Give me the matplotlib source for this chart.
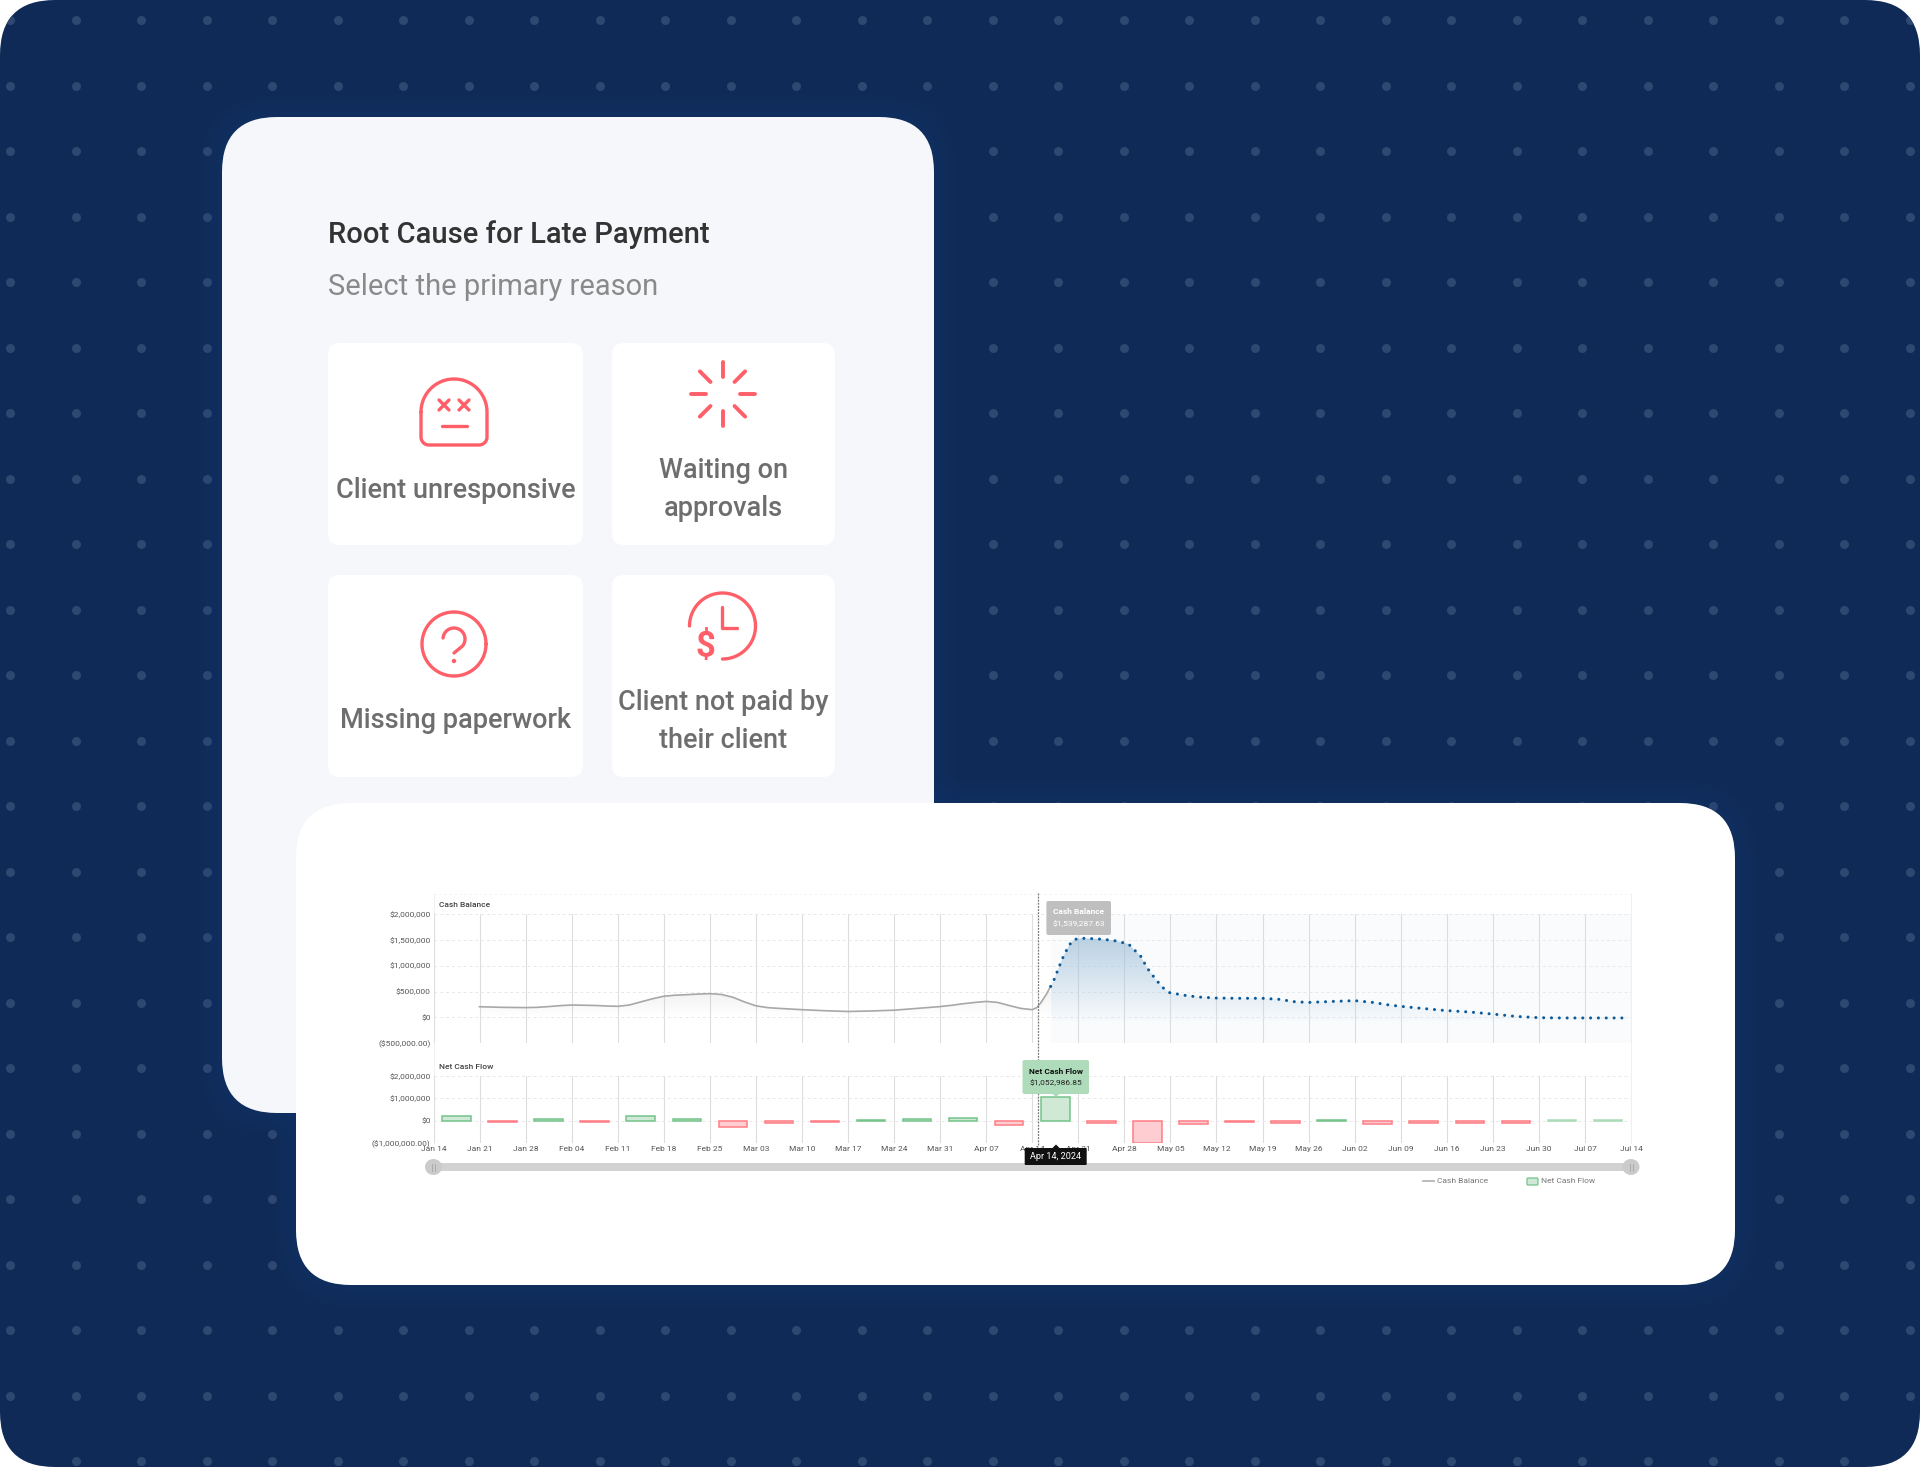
#rebuilds the late payment mockup: navy dotted backdrop, reason picker panel and the cash flow chart card.
#the backdrop and cards live in full figure axes in pixel coords, the two charts get their own axes on top.

import numpy as np
import matplotlib
matplotlib.use("Agg")
import matplotlib.pyplot as plt
from matplotlib.patches import FancyBboxPatch, Circle, Ellipse, Polygon, Rectangle

plt.rcParams["font.family"] = ["Roboto", "DejaVu Sans"]

W, H = 1920, 1467

NAVY = "#0f2a56"
DOT = "#2f4872"
PANEL = "#f6f7fa"
ICON = "#ff5f68"

WEEK_LABELS = ["Jan 14", "Jan 21", "Jan 28", "Feb 04", "Feb 11", "Feb 18", "Feb 25", "Mar 03", "Mar 10",
               "Mar 17", "Mar 24", "Mar 31", "Apr 07", "Apr 14", "Apr 21", "Apr 28", "May 05", "May 12",
               "May 19", "May 26", "Jun 02", "Jun 09", "Jun 16", "Jun 23", "Jun 30", "Jul 07", "Jul 14"]

#cash balance, x in weeks since jan 14
hist_weeks = [1, 1.5, 2, 2.25, 2.5, 2.75, 3, 3.5, 3.75, 4, 4.25, 4.5, 4.75, 5, 5.25, 5.5, 5.75, 6, 6.25, 6.5,
              6.75, 7, 7.25, 7.5, 8, 8.5, 9, 9.5, 10, 10.5, 11, 11.25, 11.5, 11.75, 12, 12.25, 12.5, 12.75,
              13, 13.1, 13.2, 13.3, 13.4]
hist_cash = [207000, 195000, 190000, 195000, 210000, 228000, 240000, 232000, 222000, 215000, 240000, 300000,
             360000, 410000, 430000, 440000, 452000, 460000, 445000, 390000, 300000, 225000, 190000, 175000,
             150000, 130000, 115000, 125000, 140000, 175000, 210000, 235000, 265000, 290000, 310000, 290000,
             230000, 175000, 150000, 190000, 300000, 440000, 600000]
fcst_weeks = [13.4, 13.46, 13.65, 13.8, 13.92, 14.08, 14.4, 14.76, 15.09, 15.2, 15.35, 15.5, 15.66, 15.83,
              15.98, 16.29, 16.6, 17, 17.46, 18, 18.36, 18.69, 19, 19.53, 20, 20.4, 20.75, 21, 21.4,
              21.95, 22.5, 23, 23.5, 24, 24.5, 25, 25.87]
fcst_cash = [600000, 700000, 1130000, 1400000, 1510000, 1530000, 1520000, 1490000, 1420000, 1320000,
             1190000, 950000, 760000, 580000, 480000, 430000, 395000, 375000, 370000, 370000, 350000,
             305000, 290000, 310000, 325000, 290000, 240000, 215000, 180000, 135000, 105000, 65000,
             20000, -5000, -10000, -10000, -10000]

#weekly net cash flow, one bar per week
net_flow = [210000, -60000, 70000, -60000, 200000, 80000, -270000, -110000, -70000, 60000, 90000, 110000,
            -190000, 1052986.85, -110000, -1000000, -150000, -50000, -100000, 40000, -140000, -110000,
            -110000, -100000, 40000, 40000]

CASH_TICKS = [-500000, 0, 500000, 1000000, 1500000, 2000000]
CASH_TICK_LABELS = ["($500,000.00)", "$0", "$500,000", "$1,000,000", "$1,500,000", "$2,000,000"]
FLOW_TICKS = [-1000000, 0, 1000000, 2000000]
FLOW_TICK_LABELS = ["($1,000,000.00)", "$0", "$1,000,000", "$2,000,000"]

CARDS = [
    (328, 343, 583, 545, ["Client unresponsive"], [491]),
    (612, 343, 835, 545, ["Waiting on", "approvals"], [470.5, 508.5]),
    (328, 575, 583, 777, ["Missing paperwork"], [720]),
    (612, 575, 835, 777, ["Client not paid by", "their client"], [703, 741]),
]


def rounded(ax, x0, y0, x1, y1, r, **kw):
    patch = FancyBboxPatch((x0, y0), x1 - x0, y1 - y0, boxstyle=f"round,pad=0,rounding_size={r}",
                           mutation_aspect=1, **kw)
    ax.add_patch(patch)
    return patch


def glow(ax, x0, y0, x1, y1, r):
    #soft blue halo around the big cards
    for grow in [22, 16, 10, 5]:
        rounded(ax, x0 - grow, y0 - grow, x1 + grow, y1 + grow, r + grow, fc="#1c3f80", ec="none", alpha=0.06, zorder=2)


def px_axes(fig, x0, y0, x1, y1):
    ax = fig.add_axes([x0 / W, 1 - y1 / H, (x1 - x0) / W, (y1 - y0) / H])
    ax.patch.set_alpha(0)
    for s in ax.spines.values():
        s.set_visible(False)
    return ax


def icon_line(ax, xs, ys, lw=2.4):
    ax.plot(xs, ys, color=ICON, lw=lw, solid_capstyle="round", solid_joinstyle="round", zorder=6)


def arc(cx, cy, r, a0, a1, n=80):
    #angles in degrees, measured on screen (y axis points down in pixel coords)
    t = np.radians(np.linspace(a0, a1, n))
    return cx + r * np.cos(t), cy - r * np.sin(t)


def draw_icons(ax):
    #dead face
    x1, y1 = arc(454, 412, 33, 180, 0)
    x2, y2 = arc(479, 437, 8, 0, -90, 20)
    x3, y3 = arc(429, 437, 8, -90, -180, 20)
    icon_line(ax, np.r_[x1, x2, x3, x1[0]], np.r_[y1, y2, y3, y1[0]])
    for ex in [444, 464]:
        icon_line(ax, [ex - 5, ex + 5], [400, 410])
        icon_line(ax, [ex - 5, ex + 5], [410, 400])
    icon_line(ax, [442, 467], [426, 426])

    #spinner
    for a in np.radians(np.arange(0, 360, 45)):
        icon_line(ax, [722.5 + 17 * np.cos(a), 722.5 + 32 * np.cos(a)], [394 + 17 * np.sin(a), 394 + 32 * np.sin(a)], lw=2.8)

    #question mark
    x, y = arc(454, 644, 32, 0, 360, 120)
    icon_line(ax, x, y)
    x, y = arc(454, 639, 11, 175, -40, 40)
    icon_line(ax, np.r_[x, 454], np.r_[y, 653])
    ax.add_patch(Circle((454, 661), 2.2, fc=ICON, ec="none", zorder=6))

    #clock with dollar
    x, y = arc(722.5, 626, 33, -90, 180, 100)
    icon_line(ax, x, y)
    icon_line(ax, [722, 722, 737], [607, 628, 628])
    ax.text(705, 646, "$", color=ICON, fontsize=25, fontweight="bold", ha="center", va="center", zorder=6)


def draw_backdrop(ax):
    bg = rounded(ax, 0, 0, W, H, 55, fc=NAVY, ec="none", zorder=1)
    xs = np.arange(10, W, 65.5)
    ys = np.arange(20, H, 65.5)
    gx, gy = np.meshgrid(xs, ys)
    dots = ax.scatter(gx.ravel(), gy.ravel(), s=42, c=DOT, linewidths=0, zorder=1.5)
    dots.set_clip_path(bg)

    glow(ax, 222, 117, 934, 1113, 55)
    rounded(ax, 222, 117, 934, 1113, 55, fc=PANEL, ec="none", zorder=3)

    ax.text(328, 235, "Root Cause for Late Payment", color="#333333", fontsize=21, fontweight="medium", va="center", zorder=6)
    ax.text(328, 287, "Select the primary reason", color="#8a8a8a", fontsize=21, va="center", zorder=6)

    for x0, y0, x1, y1, lines, line_y in CARDS:
        rounded(ax, x0, y0, x1, y1, 12, fc="white", ec="none", zorder=4)
        for txt, ty in zip(lines, line_y):
            ax.text((x0 + x1) / 2, ty, txt, color="#6e6e6e", fontsize=19.5, fontweight="medium", ha="center", va="center", zorder=6)
    draw_icons(ax)

    glow(ax, 296, 803, 1735, 1285, 55)
    rounded(ax, 296, 803, 1735, 1285, 55, fc="white", ec="none", zorder=5)


def style_chart(ax, ticks, labels):
    ax.set_xlim(0, 26)
    ax.set_ylim(ticks[0], ticks[-1])
    ax.set_yticks(ticks, labels, fontsize=6, color="#555555")
    ax.set_xticks(range(27))
    ax.tick_params(length=0, pad=2)
    ax.grid(axis="x", color="#dddddd", lw=0.8, zorder=1)
    ax.grid(axis="y", color="#e8e8e8", lw=0.7, ls=(0, (3, 3)), zorder=1)
    ax.set_axisbelow(True)


def gradient_under(ax, weeks, vals, rgb, top_alpha, y_low, y_high, floor=-500000):
    #vertical fade clipped to the area below the curve
    poly = ax.fill_between(weeks, vals, floor, color="none", lw=0)
    grad = np.zeros((256, 1, 4))
    grad[..., :3] = rgb
    grad[:, 0, 3] = np.linspace(top_alpha, 0, 256)
    im = ax.imshow(grad, extent=[weeks[0], weeks[-1], y_low, y_high], origin="upper", aspect="auto", zorder=1.5)
    im.set_clip_path(poly.get_paths()[0], transform=ax.transData)


def draw_cash(ax):
    style_chart(ax, CASH_TICKS, CASH_TICK_LABELS)
    ax.set_xticklabels([])
    ax.axvspan(fcst_weeks[0], 26, fc="#f9fbfd", ec="none", zorder=0.5)
    gradient_under(ax, hist_weeks, hist_cash, (0.6, 0.6, 0.6), 0.12, 0, 460000, floor=0)
    gradient_under(ax, fcst_weeks, fcst_cash, (0.62, 0.75, 0.85), 0.7, -100000, 1530000)
    ax.set_xlim(0, 26)
    ax.set_ylim(CASH_TICKS[0], CASH_TICKS[-1])
    ax.plot(hist_weeks, hist_cash, color="#a8a8a8", lw=1.2, zorder=3)
    ax.plot(fcst_weeks, fcst_cash, color="#0b5a9a", lw=2.2, ls=(0, (0.01, 2.55)), dash_capstyle="round", zorder=3)


def draw_flow(ax):
    style_chart(ax, FLOW_TICKS, FLOW_TICK_LABELS)
    ax.set_xticklabels(WEEK_LABELS, fontsize=6, color="#555555")
    weeks = np.arange(len(net_flow)) + 0.5
    faces = ["#cfe9d6" if v > 0 else "#fdcdd1" for v in net_flow]
    edges = ["#74c48a" if v > 0 else "#ff7d84" for v in net_flow]
    edges[-2:] = ["#a9dcb7", "#a9dcb7"]
    ax.bar(weeks, net_flow, width=0.62, color=faces, edgecolor=edges, lw=1.1, zorder=3)


def draw_overlay(ax):
    #crosshair, tooltips, slider and legend sit above the charts
    ax.plot([1037.7, 1037.7], [893, 1145], color="#777777", lw=0.9, ls=(0, (1.5, 1)), zorder=2)

    rounded(ax, 1046.4, 901, 1111, 935, 2, fc="#bfbfbf", ec="none", zorder=3)
    ax.text(1078.7, 912, "Cash Balance", color="white", fontsize=6, fontweight="bold", ha="center", va="center", zorder=4)
    ax.text(1078.7, 924, "$1,539,287.63", color="white", fontsize=6, ha="center", va="center", zorder=4)

    rounded(ax, 1022.5, 1060, 1089, 1094, 2, fc="#aedcba", ec="none", zorder=3)
    ax.add_patch(Polygon([[1052.5, 1094], [1059.5, 1094], [1056, 1097]], fc="#aedcba", ec="none", zorder=3))
    ax.text(1055.7, 1071, "Net Cash Flow", color="#111111", fontsize=6, fontweight="bold", ha="center", va="center", zorder=4)
    ax.text(1055.7, 1083, "$1,052,986.85", color="#222222", fontsize=6, ha="center", va="center", zorder=4)

    #slider track and handles
    ax.add_patch(Rectangle((433, 1163), 1198, 8, fc="#d2d2d2", ec="none", zorder=2))
    for hx in [433.5, 1631]:
        ax.add_patch(Ellipse((hx, 1167), 17, 16, fc="#cbcbcb", ec="none", zorder=3))
        for dx in [-1.5, 1.5]:
            ax.plot([hx + dx, hx + dx], [1163.5, 1170.5], color="#a5a5a5", lw=0.6, zorder=4)

    rounded(ax, 1024.7, 1148, 1086.7, 1165, 1, fc="#111111", ec="none", zorder=5)
    ax.add_patch(Polygon([[1052.5, 1148], [1059.5, 1148], [1056, 1144.5]], fc="#111111", ec="none", zorder=5))
    ax.text(1055.7, 1156.5, "Apr 14, 2024", color="white", fontsize=6.6, ha="center", va="center", zorder=6)

    ax.plot([1423, 1434], [1181, 1181], color="#b5b5b5", lw=1.3, zorder=3)
    ax.text(1437, 1181, "Cash Balance", color="#777777", fontsize=6, va="center", zorder=3)
    rounded(ax, 1527, 1178, 1538, 1185, 1, fc="#cfe9d6", ec="#74c48a", lw=0.9, zorder=3)
    ax.text(1541, 1181, "Net Cash Flow", color="#777777", fontsize=6, va="center", zorder=3)

    ax.text(439, 905, "Cash Balance", color="#444444", fontsize=6, fontweight="medium", va="center", zorder=3)
    ax.text(439, 1067, "Net Cash Flow", color="#444444", fontsize=6, fontweight="medium", va="center", zorder=3)


def main():
    fig = plt.figure(figsize=(W / 100, H / 100), dpi=100, facecolor="white")

    back = fig.add_axes([0, 0, 1, 1])
    back.set_xlim(0, W)
    back.set_ylim(H, 0)
    back.axis("off")
    draw_backdrop(back)
    #faint dashed top line above the cash panel
    back.plot([433.5, 1631], [894, 894], color="#f2f2f2", lw=0.6, ls=(0, (3, 3)), zorder=6)
    back.plot([1631, 1631], [894, 1143], color="#f0f0f0", lw=0.7, zorder=6)
    back.plot([433.5, 433.5], [894, 1143], color="#f0f0f0", lw=0.7, zorder=6)

    draw_cash(px_axes(fig, 433.5, 914, 1631, 1043.3))
    draw_flow(px_axes(fig, 433.5, 1076, 1631, 1143.3))

    front = fig.add_axes([0, 0, 1, 1], zorder=10)
    front.set_xlim(0, W)
    front.set_ylim(H, 0)
    front.axis("off")
    draw_overlay(front)

    fig.savefig("out.png", dpi=100)
    plt.close(fig)


if __name__ == "__main__":
    main()
